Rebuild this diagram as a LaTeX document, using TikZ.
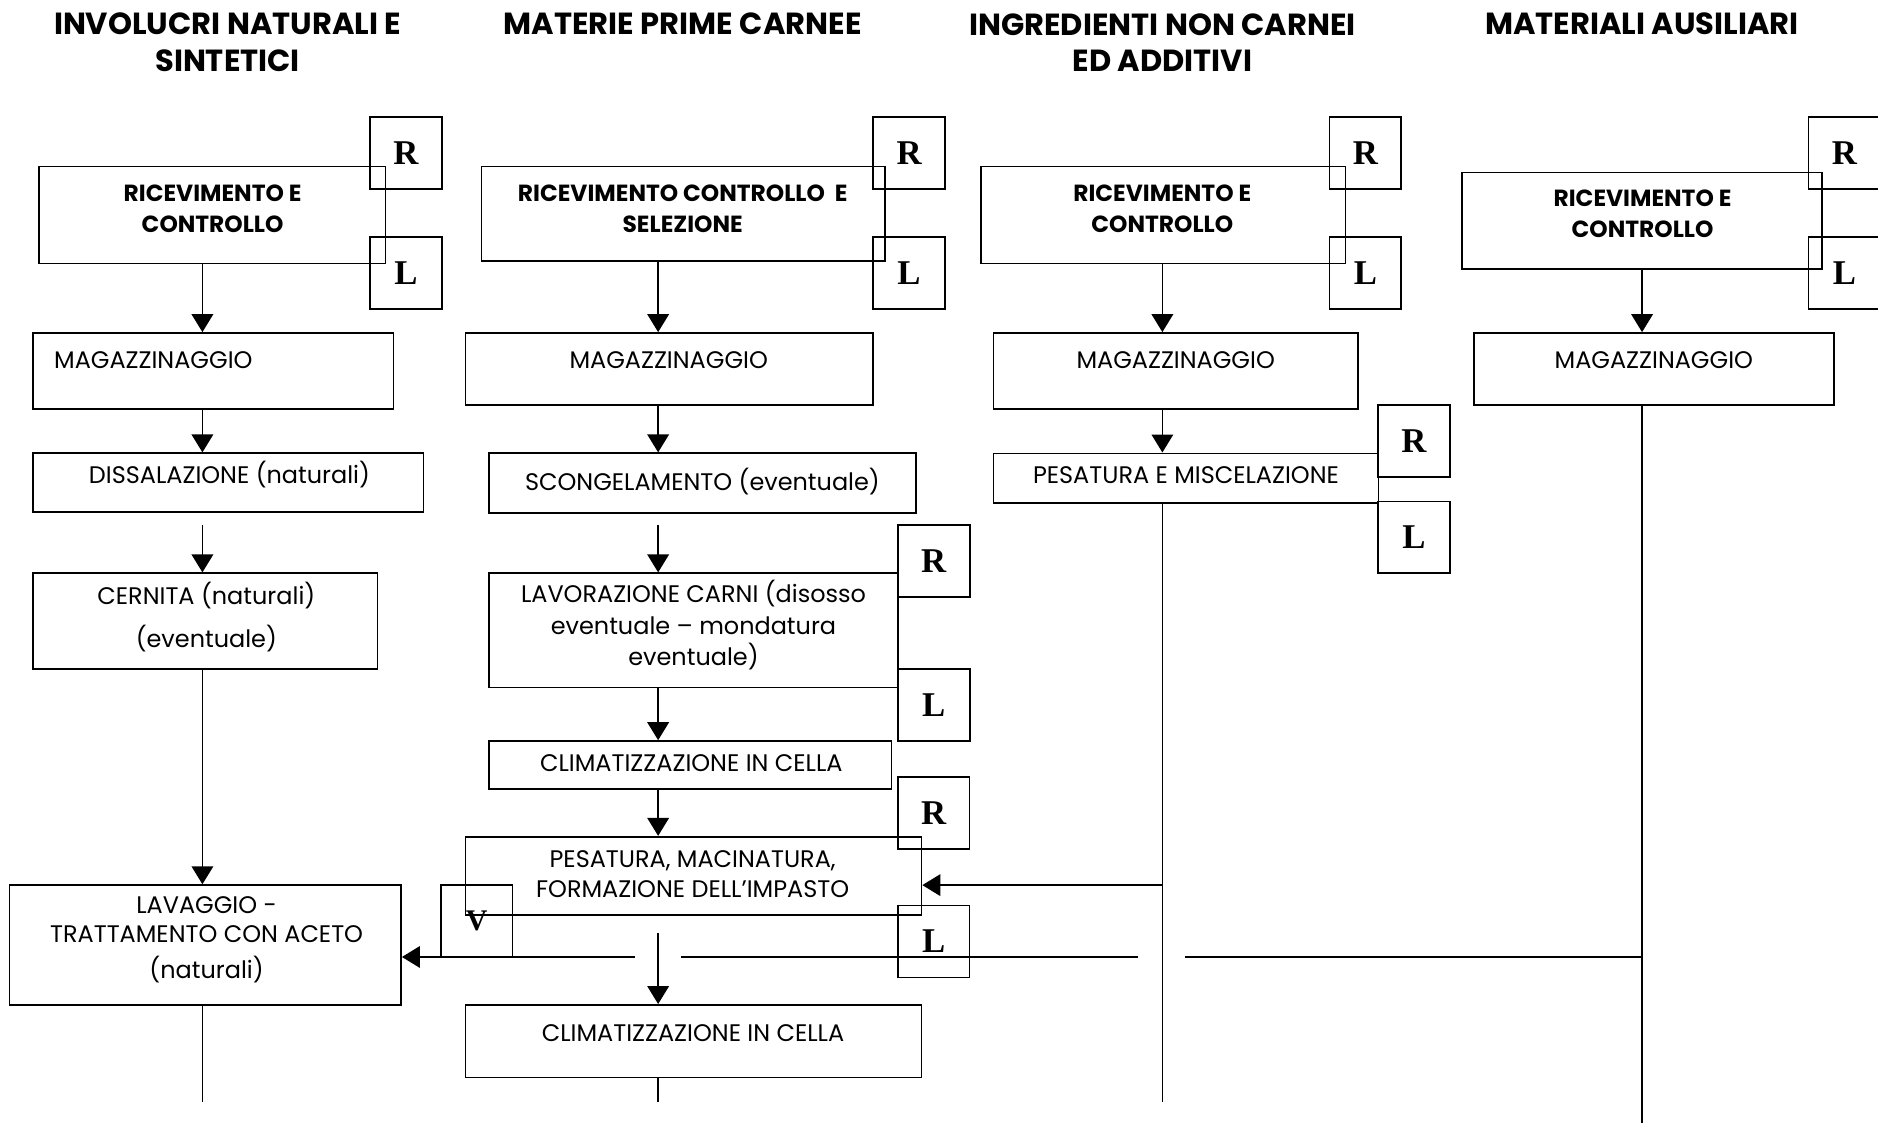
\documentclass[tikz,border=0pt]{standalone}
\usepackage{fontspec}
\setmainfont{Poppins}
\newfontfamily\rlfont{Liberation Serif}
\usetikzlibrary{arrows.meta}

\begin{document}
\begin{tikzpicture}[x=1pt, y=-1pt,
        box/.style={rectangle, draw, line width=1.4pt, inner sep=0pt},
        sz/.style 2 args={minimum width=#1pt, minimum height=#2pt},
        txt/.style={align=center, inner sep=0pt, font=\fontsize{20}{26}\selectfont},
        boldtxt/.style={align=center, inner sep=0pt, font=\fontsize{19.5}{25.5}\selectfont\bfseries},
        hdr/.style={align=center, inner sep=0pt, font=\fontsize{25.5}{30.6}\selectfont\bfseries},
        rlbox/.style={rectangle, draw, line width=1.4pt, minimum width=60pt, minimum height=60pt, inner sep=0pt, font=\fontsize{29}{29}\selectfont\rlfont\bfseries},
        arrow/.style={-{Triangle[width=18pt,length=15pt]}, line width=1.4pt},
        line/.style={line width=1.4pt}
    ]
        \useasboundingbox (0,0) rectangle (1568,937);
        \clip (0,0) rectangle (1568,937);

        % Headers
        \node[hdr] (h1) at (190,35.5) {INVOLUCRI NATURALI E\\SINTETICI};
        \node[hdr] (h2) at (570,20.2) {MATERIE PRIME CARNEE};
        \node[hdr] (h3) at (970.5,35.5) {INGREDIENTI NON CARNEI\\ED ADDITIVI};
        \node[hdr] (h4) at (1371,20.2) {MATERIALI AUSILIARI};

        % Column axes
        \coordinate (c1) at (169,0);
        \coordinate (c2) at (549.5,0);
        \coordinate (c3) at (970.5,0);
        \coordinate (c4) at (1371,0);

        % Column 1: involucri
        \node[box, sz={289.3}{81}] (rec1) at (177.25,179.5) {};
        \node[boldtxt] (rec1t) at (177.5,174.2) {RICEVIMENTO E\\CONTROLLO};
        \node[box, sz={300.8}{63.5}] (mag1) at (178.1,309.75) {};
        \node[txt, anchor=west] (mag1t) at (45,301) {MAGAZZINAGGIO};
        \node[box, sz={325.9}{48.8}] (diss) at (190.65,402.8) {};
        \node[txt] (disst) at (191.6,396.6) {DISSALAZIONE (naturali)};
        \node[box, sz={287.6}{80}] (cern) at (171.5,518.6) {};
        \node[txt] (cernt) at (172.3,515) {CERNITA (naturali)\\[10pt](eventuale)};
        \node[box, sz={326.9}{100}] (lav) at (171.45,789) {};
        \node[txt] (lavt) at (172.5,784.7) {LAVAGGIO -\\[-1.7pt]TRATTAMENTO CON ACETO\\[3.8pt](naturali)};

        % Column 2: materie prime carnee
        \node[box, sz={337}{78.7}] (rec2) at (570.5,178.35) {};
        \node[boldtxt] (rec2t) at (570,174.2) {RICEVIMENTO CONTROLLO\ \ E\\SELEZIONE};
        \node[box, sz={340.3}{60}] (mag2) at (558.85,308) {};
        \node[txt] (mag2t) at (558.3,301) {MAGAZZINAGGIO};
        \node[box, sz={356.4}{50}] (scong) at (586.6,403.4) {};
        \node[txt] (scongt) at (586.5,402) {SCONGELAMENTO (eventuale)};
        \node[box, sz={341.4}{95.4}] (lavc) at (579.1,526.3) {};
        \node[txt, font=\fontsize{20}{26.4}\selectfont] (lavct) at (579,522) {LAVORAZIONE CARNI (disosso\\eventuale -- mondatura\\eventuale)};
        \node[box, sz={336}{40.3}] (clim1) at (576.4,638.85) {};
        \node[txt] (clim1t) at (577.2,637) {CLIMATIZZAZIONE IN CELLA};
        \node[box, sz={380.7}{65.6}] (pesmac) at (579.05,731.4) {};
        \node[txt, font=\fontsize{20}{25.3}\selectfont] (pesmact) at (578.3,730) {PESATURA, MACINATURA,\\FORMAZIONE DELL’IMPASTO};
        \node[box, sz={380.7}{60.5}] (clim2) at (579.05,869.25) {};
        \node[txt] (clim2t) at (578.6,862.8) {CLIMATIZZAZIONE IN CELLA};

        % Column 3: ingredienti
        \node[box, sz={304.2}{81}] (rec3) at (971.4,179.5) {};
        \node[boldtxt] (rec3t) at (970.4,174.2) {RICEVIMENTO E\\CONTROLLO};
        \node[box, sz={304.2}{63.5}] (mag3) at (981.7,309.75) {};
        \node[txt] (mag3t) at (981.6,301) {MAGAZZINAGGIO};
        \node[box, sz={321.4}{41.5}] (pesmisc) at (990.3,399.25) {};
        \node[txt] (pesmisct) at (990.2,396.6) {PESATURA E MISCELAZIONE};

        % Column 4: materiali ausiliari
        \node[box, sz={300.6}{80.6}] (rec4) at (1370.7,184.3) {};
        \node[boldtxt] (rec4t) at (1371.4,178.7) {RICEVIMENTO E\\CONTROLLO};
        \node[box, sz={300.6}{60}] (mag4) at (1380.9,308) {};
        \node[txt] (mag4t) at (1380.8,301) {MAGAZZINAGGIO};

        % R / L / V markers
        \node[rlbox] (r1) at (339,127.6) {R};
        \node[rlbox] (l1) at (339,228) {L};
        \node[rlbox] (r2) at (759,127.6) {R};
        \node[rlbox] (l2) at (759,228) {L};
        \node[rlbox] (r3) at (1140,127.6) {R};
        \node[rlbox] (l3) at (1140,228) {L};
        \node[rlbox] (r4) at (1540,127.6) {R};
        \node[rlbox] (l4) at (1540,228) {L};
        \node[rlbox] (r5) at (1180.6,368.2) {R};
        \node[rlbox] (l5) at (1180.6,448.6) {L};
        \node[rlbox] (r6) at (779.6,468.3) {R};
        \node[rlbox] (l6) at (779.6,588.8) {L};
        \node[rlbox] (r7) at (779.5,679) {R};
        \node[rlbox] (l7) at (779.5,786) {L};
        \node[rlbox, font=\fontsize{25}{25}\selectfont\rlfont\bfseries] (v1) at (398,769) {V};

        % Free ends
        \coordinate (d1) at (169,438.4);
        \coordinate (e1) at (169,920);
        \coordinate (d2) at (549.5,438);
        \coordinate (d2b) at (549.5,779.3);
        \coordinate (e2) at (549.5,920);
        \coordinate (e3) at (970.5,920);
        \coordinate (b3) at (970.5,739);
        \coordinate (e4) at (1371,945);
        \coordinate (h5) at (1371,799);
        \coordinate (g3r) at (989.4,799);
        \coordinate (g3l) at (950.4,799);
        \coordinate (g2r) at (568.7,799);
        \coordinate (g2l) at (529.8,799);

        % Flow column 1
        \draw[arrow] (rec1.south -| c1) -- (mag1.north -| c1);
        \draw[arrow] (mag1.south -| c1) -- (diss.north -| c1);
        \draw[arrow] (d1) -- (cern.north -| c1);
        \draw[arrow] (cern.south -| c1) -- (lav.north -| c1);
        \draw[line] (lav.south -| c1) -- (e1);

        % Flow column 2
        \draw[arrow] (rec2.south -| c2) -- (mag2.north -| c2);
        \draw[arrow] (mag2.south -| c2) -- (scong.north -| c2);
        \draw[arrow] (d2) -- (lavc.north -| c2);
        \draw[arrow] (lavc.south -| c2) -- (clim1.north -| c2);
        \draw[arrow] (clim1.south -| c2) -- (pesmac.north -| c2);
        \draw[arrow] (d2b) -- (clim2.north -| c2);
        \draw[line] (clim2.south -| c2) -- (e2);

        % Flow column 3
        \draw[arrow] (rec3.south -| c3) -- (mag3.north -| c3);
        \draw[arrow] (mag3.south -| c3) -- (pesmisc.north -| c3);
        \draw[line] (pesmisc.south -| c3) -- (e3);
        \draw[arrow] (b3) -- (pesmac.east |- b3);

        % Flow column 4
        \draw[arrow] (rec4.south -| c4) -- (mag4.north -| c4);
        \draw[line] (mag4.south -| c4) -- (e4);
        \draw[line] (h5) -- (g3r);
        \draw[line] (g3l) -- (g2r);
        \draw[arrow] (g2l) -- (lav.east |- g2l);
    \end{tikzpicture}
\end{document}
